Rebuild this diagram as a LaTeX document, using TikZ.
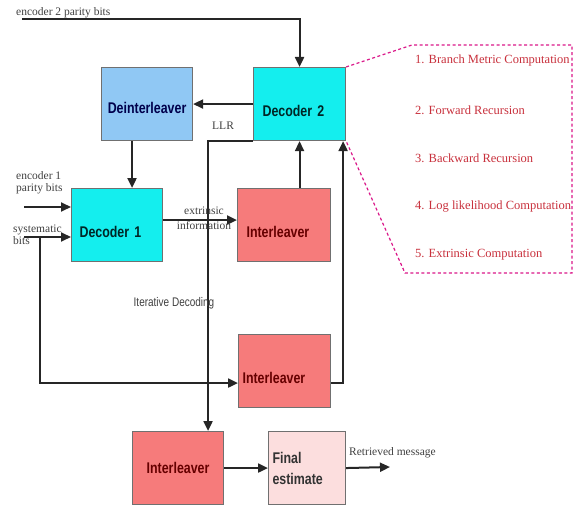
\documentclass[tikz,border=0pt]{standalone}
\usepackage{fontspec}
\setmainfont{Liberation Serif}
\newfontfamily\blockfont[FakeStretch=0.8]{Liberation Sans}
\usetikzlibrary{arrows.meta}
\definecolor{deccyan}{HTML}{14EEEE}
\definecolor{deintblue}{HTML}{90C8F4}
\definecolor{intred}{HTML}{F67B7B}
\definecolor{finpink}{HTML}{FCDEDE}
\definecolor{itemred}{HTML}{C8303C}
\definecolor{boxline}{HTML}{707070}
\begin{document}
\begin{tikzpicture}[x=1pt, y=-1pt,
    blk/.style={draw=boxline, line width=1.1pt, anchor=north west, minimum height=73pt,
      inner ysep=0pt, font=\blockfont\bfseries\fontsize{15.5}{17}\selectfont},
    leftblk/.style={blk, align=left, text height=24pt, text depth=0pt},
    wire/.style={line width=2pt, draw=black!85},
    arr/.style={wire, -{Triangle[length=10pt, width=9pt]}},
    lbl/.style={font=\fontsize{11.5}{12}\selectfont, text=black!75, inner sep=1pt},
    item/.style={font=\fontsize{12.5}{13}\selectfont, text=itemred, anchor=west, inner sep=0pt}]
    \useasboundingbox (0,0) rectangle (573,508);
    % blocks
    \node[leftblk, fill=deccyan, text=black!70!teal, minimum width=92pt, inner xsep=9pt, text width=74pt] (dectwo) at (253,67) {Decoder 2};
    \node[blk, fill=deintblue, text=black!70!blue, minimum width=91pt, align=center, text height=19pt, text depth=0pt] (deint) at (101,67) {Deinterleaver};
    \node[leftblk, fill=deccyan, text=black!70!teal, minimum width=91pt, inner xsep=8pt, text width=75pt] (decone) at (71,188) {Decoder 1};
    \node[leftblk, fill=intred, text=black!60!red, minimum width=93pt, inner xsep=9pt, text width=75pt] (intone) at (237,188) {Interleaver};
    \node[leftblk, fill=intred, text=black!60!red, minimum width=92pt, inner xsep=4pt, text width=84pt] (inttwo) at (238,334) {Interleaver};
    \node[blk, fill=intred, text=black!60!red, minimum width=91pt, align=center] (intthree) at (132,431) {Interleaver};
    \node[blk, fill=finpink, text=black!80, minimum width=77pt, inner xsep=4pt, text width=69pt, align=left] (final) at (268,431) {Final\\[4pt]estimate};
    % free ends
    \coordinate (enctwo) at (22,19);
    \coordinate (encone) at (24,207);
    \coordinate (sys) at (24,237);
    \coordinate (sysbr) at (40,237);
    \coordinate (out) at (390,467);
    % connectors
    \draw[arr] (enctwo) -| (dectwo.north);
    \draw[arr] (dectwo.west) -- (deint.east);
    \draw[arr] ([xshift=-15pt]deint.south) -- ([xshift=-15pt]deint.south |- decone.north);
    \draw[arr] (encone) -- (decone.west |- encone);
    \draw[arr] (sys) -- (decone.west |- sys);
    \draw[arr] (sysbr) |- ([yshift=-12pt]inttwo.west);
    \draw[arr] ([yshift=5pt]decone.east) -- ([yshift=5pt]intone.west);
    \draw[arr] (dectwo.south |- intone.north) -- (dectwo.south);
    \draw[arr] ([yshift=-12pt]inttwo.east) -| ([xshift=-3pt]dectwo.south east);
    \draw[arr] (dectwo.south west) -| ([xshift=30pt]intthree.north);
    \draw[arr] (intthree.east) -- (final.west);
    \draw[arr] (final.east) -- (out);
    % labels
    \node[lbl, anchor=base west] (enctwolbl) at (15,16) {encoder 2 parity bits};
    \node[lbl, align=left, anchor=west] (enconelbl) at (15,183) {encoder 1\\parity bits};
    \node[lbl, align=left, anchor=west] (syslbl) at (12,235) {systematic\\bits};
    \node[lbl, align=center] (extlbl) at (204,218) {extrinsic\\[3pt]information};
    \node[lbl, anchor=base west] (llrlbl) at (211,130) {LLR};
    \node[lbl, anchor=base west] (outlbl) at (348,455) {Retrieved message};
    \node[font=\blockfont\fontsize{12.5}{13}\selectfont, text=black!75] (iterlbl) at (174,303) {Iterative Decoding};
    % detail of decoder 2
    \draw[draw=magenta!80!violet, line width=1.2pt, dash pattern=on 3pt off 2.5pt]
      (dectwo.north east) -- (412,45) -- (572,45) -- (572,273) -- (405,273) -- (dectwo.south east);
    \node[item] (itemone) at (415,60) {1. Branch Metric Computation};
    \node[item] (itemtwo) at (415,110) {2. Forward Recursion};
    \node[item] (itemthree) at (415,158) {3. Backward Recursion};
    \node[item] (itemfour) at (415,207) {4. Log likelihood Computation};
    \node[item] (itemfive) at (415,255) {5. Extrinsic Computation};
\end{tikzpicture}
\end{document}
